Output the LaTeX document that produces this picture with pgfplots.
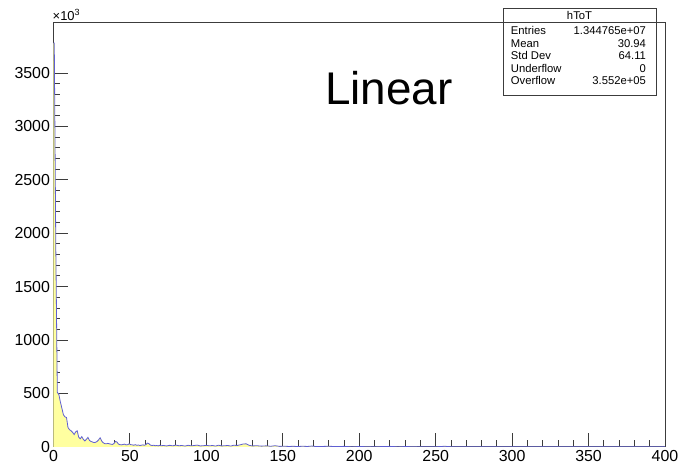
\documentclass[border=0pt]{standalone}
\usepackage{pgfplots}
\usepackage{pgfplotstable}
\pgfplotsset{compat=1.18}
\usepackage{fontspec}
\setmainfont{Liberation Sans}
\definecolor{histfill}{RGB}{255,255,160}
\definecolor{histline}{RGB}{95,95,210}
\definecolor{framecol}{RGB}{60,60,60}
\pgfplotstableread{
x y
0 3780
0.5 3780
1.5 1880
2.5 510
3.5 490
4.5 420
5.5 360
6.5 300
7.5 280
8.5 275
9.5 180
10.5 160
11.5 150
12.5 135
13.5 115
14.5 140
15.5 150
16.5 90
17.5 75
18.5 95
19.5 70
20.5 55
21.5 70
22.5 88
23.5 60
24.5 50
25.5 45
26.5 40
27.5 42
28.5 50
29.5 65
30.5 84
31.5 55
32.5 38
33.5 30
34.5 28
35.5 32
36.5 28
37.5 25
38.5 22
39.5 30
40.5 50
41.5 45
42.5 25
43.5 20
44.5 18
45.5 22
46.5 25
47.5 18
48.5 20
49.5 28
50.5 20
51.5 18
52.5 15
53.5 20
54.5 14
55.5 17
56.5 12
57.5 15
58.5 18
59.5 14
60.5 22
61.5 35
62.5 28
63.5 15
64.5 12
65.5 15
66.5 10
67.5 12
68.5 9
69.5 14
70.5 10
72 12
74 8
76 14
78 9
80 16
82 10
84 12
86 7
88 14
90 9
92 12
94 16
96 8
98 10
100 14
102 9
104 12
106 7
108 15
110 8
112 10
114 12
116 7
118 15
120 12
122 18
124 26
126 28
128 14
130 8
133 10
136 6
139 9
142 5
145 10
148 4
151 6
154 3
157 5
160 2
163 6
166 3
169 7
172 2
175 3
180 5
185 2
190 4
195 0
200 2
210 0
220 4
225 0
230 2
240 0
250 0
256 5
260 0
270 0
400 0
}\histdata
\begin{document}
\begin{tikzpicture}
\path[use as bounding box] (-53.5bp,-21.2bp) rectangle (626.5bp,446.8bp);
\begin{axis}[
  at={(0,0)}, anchor=south west,
  scale only axis, width=611.5bp, height=424.1bp,
  xmin=0, xmax=400, ymin=0, ymax=3971,
  tick pos=left, tick align=inside,
  xtick={0,50,...,400}, ytick={0,500,...,3500},
  minor x tick num=4, minor y tick num=4,
  major tick length=14bp, minor tick length=7bp,
  axis line style={framecol, line width=0.9bp},
  every tick/.style={framecol, line width=0.9bp},
  scaled y ticks=false,
  /pgf/number format/1000 sep={},
  /pgf/number format/assume math mode=true,
  tick label style={font=\fontsize{16}{16}\selectfont, text=black},
  clip=true,
]
\addplot[fill=histfill, draw=none] table[x=x,y=y] {\histdata} \closedcycle;
\addplot[histline, line width=0.8bp] table[x=x,y=y] {\histdata};
\end{axis}
% x10^3
\node[anchor=base west, inner sep=0, font=\fontsize{13}{13}\selectfont] at (-1bp,426bp) {×10\raisebox{5bp}{\fontsize{9}{9}\selectfont 3}};
% Linear
\node[anchor=base west, inner sep=0, font=\fontsize{46}{46}\selectfont] at (271.5bp,341.8bp) {Linear};
% stats box
\draw[framecol, line width=0.9bp, fill=white] (449.5bp,351.8bp) rectangle (602.5bp,438.8bp);
\draw[framecol, line width=0.9bp] (449.5bp,424.8bp) -- (602.5bp,424.8bp);
\begin{scope}[every node/.style={inner sep=0, font=\fontsize{11.3}{11.3}\selectfont}]
\node[anchor=base] at (526bp,427bp) {hToT};
\node[anchor=base west] at (457.2bp,412.1bp) {Entries};
\node[anchor=base east] at (592.7bp,412.1bp) {1.344765e+07};
\node[anchor=base west] at (457.2bp,399.5bp) {Mean};
\node[anchor=base east] at (592.7bp,399.5bp) {30.94};
\node[anchor=base west] at (457.2bp,386.8bp) {Std Dev};
\node[anchor=base east] at (592.7bp,386.8bp) {64.11};
\node[anchor=base west] at (457.2bp,374.5bp) {Underflow};
\node[anchor=base east] at (592.7bp,374.5bp) {0};
\node[anchor=base west] at (457.2bp,362.1bp) {Overflow};
\node[anchor=base east] at (592.7bp,362.1bp) {3.552e+05};
\end{scope}
\end{tikzpicture}
\end{document}
